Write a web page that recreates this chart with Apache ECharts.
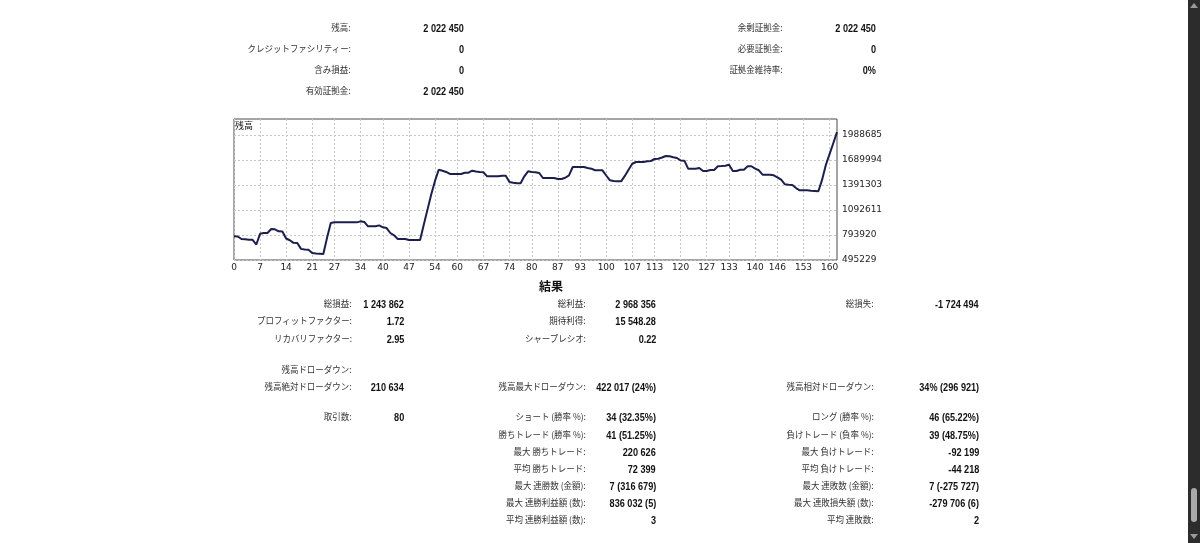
<!DOCTYPE html>
<html><head><meta charset="utf-8">
<script src="https://cdn.jsdelivr.net/npm/echarts@6/dist/echarts.min.js"></script>
<style>
html,body{margin:0;padding:0;background:#fff;width:1200px;height:543px;overflow:hidden;position:relative;}
#chart{position:absolute;left:0;top:0;width:1200px;height:543px;}
.t{position:absolute;white-space:nowrap;line-height:14px;height:14px;font-family:"Liberation Sans","Noto Sans CJK JP",sans-serif;}
.l{font-size:9px;color:#333;font-family:"Noto Sans CJK JP",sans-serif;transform:scaleX(0.94);transform-origin:100% 50%;}
.v{font-size:11px;font-weight:bold;color:#111;transform:scaleX(0.83);transform-origin:100% 50%;}
.h{font-size:12px;font-weight:bold;color:#111;font-family:"Noto Sans CJK JP",sans-serif;}
#sb{position:absolute;left:1188px;top:0;width:12px;height:543px;background:#2c2c2c;}
#thumb{position:absolute;left:3px;top:488px;width:6px;height:34px;background:#a9a9a9;border-radius:3px;}
.arr{position:absolute;left:2px;width:0;height:0;border-left:4px solid transparent;border-right:4px solid transparent;}
</style></head><body>
<div id="chart"></div>
<div id="txt"></div>
<div id="sb"><div class="arr" style="top:3px;border-bottom:5px solid #9a9a9a;"></div><div id="thumb"></div><div class="arr" style="top:534px;border-top:5px solid #9a9a9a;"></div></div>
<script>
// ---- chart data ----
const balance = [
 778588, 776000, 746000, 742000, 738000, 736000, 680000, 808000, 818000, 818000,
 864875, 862000, 838000, 836000, 752000, 731000, 700000, 698000, 628000, 620000,
 618000, 580000, 572000, 570000, 567954, 760000, 937000, 945000, 945000, 945000,
 945000, 945000, 945000, 945000, 957000, 950000, 898000, 898000, 898000, 909000,
 886000, 877000, 818000, 790000, 746000, 746000, 746000, 734000, 734000, 734000,
 734000, 920000, 1100000, 1280000, 1440000, 1574000, 1562000, 1547000, 1523000, 1523000,
 1523000, 1523000, 1538000, 1538000, 1562000, 1552000, 1547000, 1543000, 1495000, 1495000,
 1495000, 1495000, 1502000, 1502000, 1427000, 1418000, 1412000, 1413000, 1495000, 1555000,
 1547000, 1543000, 1535000, 1475000, 1475000, 1475000, 1475000, 1463000, 1463000, 1478000,
 1507000, 1606000, 1606000, 1606000, 1606000, 1594000, 1586000, 1567000, 1567000, 1567000,
 1505000, 1447000, 1439000, 1436000, 1435000, 1500000, 1574000, 1645000, 1666000, 1666000,
 1666000, 1674000, 1678000, 1702000, 1705000, 1720000, 1738000, 1735000, 1722000, 1714000,
 1684000, 1682000, 1586000, 1586000, 1586000, 1594000, 1559000, 1559000, 1570000, 1570000,
 1615000, 1618000, 1622000, 1634000, 1559000, 1559000, 1574000, 1574000, 1615000, 1615000,
 1586000, 1567000, 1514000, 1514000, 1514000, 1507000, 1483000, 1455000, 1400000, 1393000,
 1391000, 1355000, 1328000, 1328000, 1328000, 1322000, 1320000, 1315983, 1455000, 1630000,
 1760000, 1890000, 2022450
];
const xTicks = [0,7,14,21,27,34,40,47,54,60,67,74,80,87,93,100,107,113,120,127,133,140,146,153,160];
const yTicks = [495229, 793920, 1092611, 1391303, 1689994, 1988685];
const chartTitle = '残高';

// ---- report texts ----
const topLeftLabels  = ['残高:', 'クレジットファシリティー:', '含み損益:', '有効証拠金:'];
const topLeftValues  = ['2 022 450', '0', '0', '2 022 450'];
const topRightLabels = ['余剰証拠金:', '必要証拠金:', '証拠金維持率:'];
const topRightValues = ['2 022 450', '0', '0%'];
const resultTitle = '結果';
const col1Labels = ['総損益:', 'プロフィットファクター:', 'リカバリファクター:', '残高ドローダウン:', '残高絶対ドローダウン:', '取引数:'];
const col1Values = ['1 243 862', '1.72', '2.95', '', '210 634', '80'];
const col1Rows   = [0, 1, 2, 3, 4, 5];
const col2Labels = ['総利益:', '期待利得:', 'シャープレシオ:', '残高最大ドローダウン:', 'ショート (勝率 %):', '勝ちトレード (勝率 %):', '最大 勝ちトレード:', '平均 勝ちトレード:', '最大 連勝数 (金額):', '最大 連勝利益額 (数):', '平均 連勝利益額 (数):'];
const col2Values = ['2 968 356', '15 548.28', '0.22', '422 017 (24%)', '34 (32.35%)', '41 (51.25%)', '220 626', '72 399', '7 (316 679)', '836 032 (5)', '3'];
const col2Rows   = [0, 1, 2, 4, 5, 6, 7, 8, 9, 10, 11];
const col3Labels = ['総損失:', '残高相対ドローダウン:', 'ロング (勝率 %):', '負けトレード (負率 %):', '最大 負けトレード:', '平均 負けトレード:', '最大 連敗数 (金額):', '最大 連敗損失額 (数):', '平均 連敗数:'];
const col3Values = ['-1 724 494', '34% (296 921)', '46 (65.22%)', '39 (48.75%)', '-92 199', '-44 218', '7 (-275 727)', '-279 706 (6)', '2'];
const col3Rows   = [0, 4, 5, 6, 7, 8, 9, 10, 11];

// ---- layout ----
const topRowY = [28, 49, 70, 91];
const resRowY = [304, 321, 339, 370, 387, 417, 435, 452, 469, 486, 503, 520];
const txt = document.getElementById('txt');
function put(text, xRight, yCenter, cls) {
  if (!text) return;
  const d = document.createElement('div');
  d.className = 't ' + cls;
  d.textContent = text;
  d.style.right = (1200 - xRight) + 'px';
  d.style.top = (yCenter - 7) + 'px';
  txt.appendChild(d);
}
topLeftLabels.forEach((s, i) => put(s, 351, topRowY[i], 'l'));
topLeftValues.forEach((s, i) => put(s, 464, topRowY[i], 'v'));
topRightLabels.forEach((s, i) => put(s, 783, topRowY[i], 'l'));
topRightValues.forEach((s, i) => put(s, 876, topRowY[i], 'v'));
(function () {
  const d = document.createElement('div');
  d.className = 't h'; d.textContent = resultTitle;
  d.style.left = '539px'; d.style.top = '279px';
  txt.appendChild(d);
})();
col1Labels.forEach((s, i) => put(s, 352, resRowY[col1Rows[i]], 'l'));
col1Values.forEach((s, i) => put(s, 404, resRowY[col1Rows[i]], 'v'));
col2Labels.forEach((s, i) => put(s, 586, resRowY[col2Rows[i]], 'l'));
col2Values.forEach((s, i) => put(s, 656, resRowY[col2Rows[i]], 'v'));
col3Labels.forEach((s, i) => put(s, 874, resRowY[col3Rows[i]], 'l'));
col3Values.forEach((s, i) => put(s, 979, resRowY[col3Rows[i]], 'v'));

// ---- chart ----
const yMin = yTicks[0];
const yStep = yTicks[1] - yTicks[0];
const yMax = yMin + yStep * 5.64;
const chart = echarts.init(document.getElementById('chart'), null, {renderer: 'canvas'});
const axisFont = {fontSize: 9, color: '#222', fontFamily: 'DejaVu Sans'};
chart.setOption({
  animation: false,
  grid: {left: 234, top: 119, width: 603, height: 141, show: true, borderColor: '#4a4a4a', borderWidth: 1, backgroundColor: 'transparent'},
  title: {text: chartTitle, left: 235, top: 121, padding: 0, textStyle: {fontSize: 9, fontWeight: 'normal', color: '#111', fontFamily: 'Noto Sans CJK JP'}},
  xAxis: {
    type: 'value', min: 0, max: balance.length - 1,
    axisLine: {show: false},
    axisTick: {show: false, customValues: xTicks},
    axisLabel: Object.assign({customValues: xTicks, margin: 3}, axisFont),
    splitLine: {show: true, customValues: xTicks, lineStyle: {type: [2, 2], color: '#c6c6c6', width: 1}}
  },
  yAxis: {
    type: 'value', position: 'right', min: yMin, max: yMax,
    axisLine: {show: false},
    axisTick: {show: false, customValues: yTicks},
    axisLabel: Object.assign({customValues: yTicks, margin: 5, formatter: v => String(Math.round(v))}, axisFont),
    splitLine: {show: true, customValues: yTicks, lineStyle: {type: [2, 2], color: '#c6c6c6', width: 1}}
  },
  series: [{
    type: 'line', silent: true, showSymbol: false,
    data: balance.map((v, i) => [i, v]),
    lineStyle: {color: '#1c1f4d', width: 2}
  }]
});
</script>
</body></html>
